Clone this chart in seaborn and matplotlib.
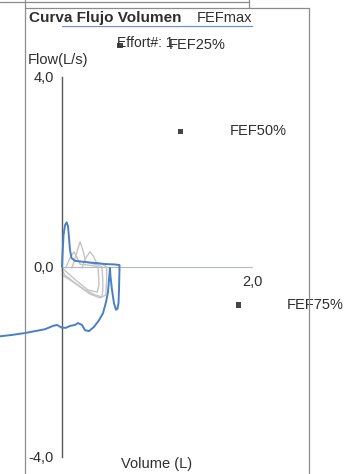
import matplotlib
matplotlib.use("Agg")
import matplotlib.pyplot as plt
from matplotlib.lines import Line2D
import numpy as np
import pandas as pd
import seaborn as sns

# Best effort (blue): expiration then inspiration, volume in L, flow in L/s
best_vol = [0.0, 0.005, 0.016, 0.032, 0.049, 0.063, 0.074, 0.084, 0.10, 0.137,
            0.242, 0.347, 0.453, 0.558, 0.605,
            0.605, 0.60, 0.595, 0.584, 0.568, 0.547, 0.526, 0.51, 0.505,
            0.495, 0.484, 0.463, 0.432, 0.39, 0.337, 0.284, 0.242, 0.21,
            0.168, 0.137, 0.084, 0.042, 0.0, -0.053, -0.095, -0.179,
            -0.284, -0.389, -0.526, -0.70]
best_flow = [0.0, 0.25, 0.67, 0.88, 0.94, 0.86, 0.61, 0.36, 0.19, 0.13,
             0.105, 0.084, 0.063, 0.053, 0.042,
             -0.06, -0.48, -0.76, -0.88, -0.90, -0.76, -0.48, -0.19, -0.02,
             -0.27, -0.53, -0.74, -0.97, -1.12, -1.26, -1.35, -1.33, -1.22,
             -1.18, -1.22, -1.24, -1.28, -1.28, -1.22, -1.24, -1.31,
             -1.35, -1.39, -1.43, -1.47]

# Tidal breaths (grey)
tidal1_vol = [0.105, 0.147, 0.19, 0.22, 0.25, 0.38, 0.42, 0.43, 0.43, 0.42,
              0.35, 0.24, 0.14, 0.03, 0.0]
tidal1_flow = [-0.02, 0.25, 0.53, 0.36, 0.105, 0.04, 0.0, -0.27, -0.48, -0.63,
               -0.59, -0.48, -0.34, -0.17, -0.06]
tidal2_vol = [0.21, 0.25, 0.295, 0.33, 0.36, 0.44, 0.47, 0.47, 0.46, 0.40,
              0.295, 0.19, 0.084, 0.0]
tidal2_flow = [-0.02, 0.19, 0.32, 0.23, 0.105, 0.04, 0.0, -0.27, -0.59, -0.65,
               -0.57, -0.42, -0.27, -0.17]
tidal3_vol = [0.04, 0.084, 0.126, 0.16, 0.19, 0.35, 0.38, 0.39, 0.37, 0.27,
              0.14, 0.0]
tidal3_flow = [-0.02, 0.19, 0.32, 0.19, 0.06, 0.02, 0.0, -0.38, -0.53, -0.48,
               -0.27, -0.02]

# Forced expiratory flow points
fef_labels = ["FEFmax", "FEF25%", "FEF50%", "FEF75%"]
fef_vol = [0.905, 0.61, 1.25, 1.855]
fef_flow = [5.24, 4.67, 2.86, -0.80]

y_ticks = [-4.0, 0.0, 4.0]
y_tick_labels = ["-4,0", "0,0", "4,0"]
x_ticks = [2.0]
x_tick_labels = ["2,0"]

sns.set_style("white")
plt.rcParams["font.family"] = ["Liberation Sans", "DejaVu Sans"]

W, H = 345, 474
fig = plt.figure(figsize=(W / 100, H / 100), dpi=100)
ax = fig.add_axes([0, 0, 1, 1])

# pixel scale: 95 px per litre, 47.5 px per L/s; origin at (62, 267)
ax.set_xlim(-62 / 95, (W - 62) / 95)
ax.set_ylim((267 - H) / 47.5, 267 / 47.5)

grey = "#c4c4c4"
for v, f in [(tidal3_vol, tidal3_flow), (tidal1_vol, tidal1_flow), (tidal2_vol, tidal2_flow)]:
    sns.lineplot(x=v, y=f, sort=False, estimator=None, color=grey, lw=1.0, ax=ax, zorder=2)
sns.lineplot(x=best_vol, y=best_flow, sort=False, estimator=None,
             color="#4a7fc4", lw=1.4, ax=ax, zorder=3)

fef = pd.DataFrame({"vol": fef_vol, "flow": fef_flow, "label": fef_labels})
sns.scatterplot(data=fef, x="vol", y="flow", marker="s", s=14, color="#454545",
                edgecolor="none", ax=ax, zorder=4)
for _, r in fef.iterrows():
    ax.annotate(r["label"], (r["vol"], r["flow"]), xytext=(35, 0),
                textcoords="offset points", va="center", ha="left",
                fontsize=10.5, color="#2e2e2e", zorder=5)

# axes: spines crossing at the origin
for s in ["top", "right"]:
    ax.spines[s].set_visible(False)
ax.spines["left"].set_position(("data", 0))
ax.spines["left"].set_bounds(-4, 4)
ax.spines["left"].set_color("#5a5a5a")
ax.spines["left"].set_linewidth(1.0)
ax.spines["bottom"].set_position(("data", 0))
ax.spines["bottom"].set_bounds(0, 2)
ax.spines["bottom"].set_color("#b4b8c2")
ax.spines["bottom"].set_linewidth(0.8)

ax.set_yticks(y_ticks)
ax.set_yticklabels(y_tick_labels)
ax.set_xticks(x_ticks)
ax.set_xticklabels(x_tick_labels)
ax.tick_params(axis="y", direction="out", length=2.5, width=0.8, pad=3.5,
               color="#5a5a5a", labelsize=10.5, labelcolor="#2e2e2e")
ax.tick_params(axis="x", direction="out", length=2.5, width=0.8, pad=3.5,
               color="#b4b8c2", labelsize=10.5, labelcolor="#2e2e2e")
ax.set_xlabel("")
ax.set_ylabel("")
ax.set_facecolor("white")
ax.patch.set_alpha(0)

def fx(px):
    return px / W

def fy(py):
    return 1 - py / H

# texts
fig.text(fx(29), fy(18), "Curva Flujo Volumen", fontsize=11, fontweight="bold",
         color="#2e2e2e", va="center", ha="left",
         bbox=dict(facecolor="white", edgecolor="none", pad=0.5), zorder=6)
fig.text(fx(117), fy(43), "Effort#: 1", fontsize=10, color="#2e2e2e",
         va="center", ha="left", zorder=6)
fig.text(fx(28), fy(60), "Flow(L/s)", fontsize=10.5, color="#2e2e2e",
         va="center", ha="left")
fig.text(fx(157), fy(464), "Volume (L)", fontsize=10.5, color="#2e2e2e",
         va="center", ha="center")

# underline and page frame
frame = "#8c8c8c"
fig.add_artist(Line2D([fx(62), fx(252)], [fy(25.5), fy(25.5)], color="#6f8fc8", lw=0.9))
fig.add_artist(Line2D([fx(25), fx(309)], [fy(8), fy(8)], color=frame, lw=0.9))
fig.add_artist(Line2D([fx(25), fx(25)], [fy(0), fy(H)], color=frame, lw=0.9))
fig.add_artist(Line2D([fx(309), fx(309)], [fy(8), fy(H)], color=frame, lw=0.9))
fig.add_artist(Line2D([fx(0), fx(249)], [fy(1.5), fy(1.5)], color=frame, lw=0.9))
fig.add_artist(Line2D([fx(249), fx(249)], [fy(0), fy(8)], color=frame, lw=0.9))

fig.savefig("out.png", dpi=100, facecolor="white")
